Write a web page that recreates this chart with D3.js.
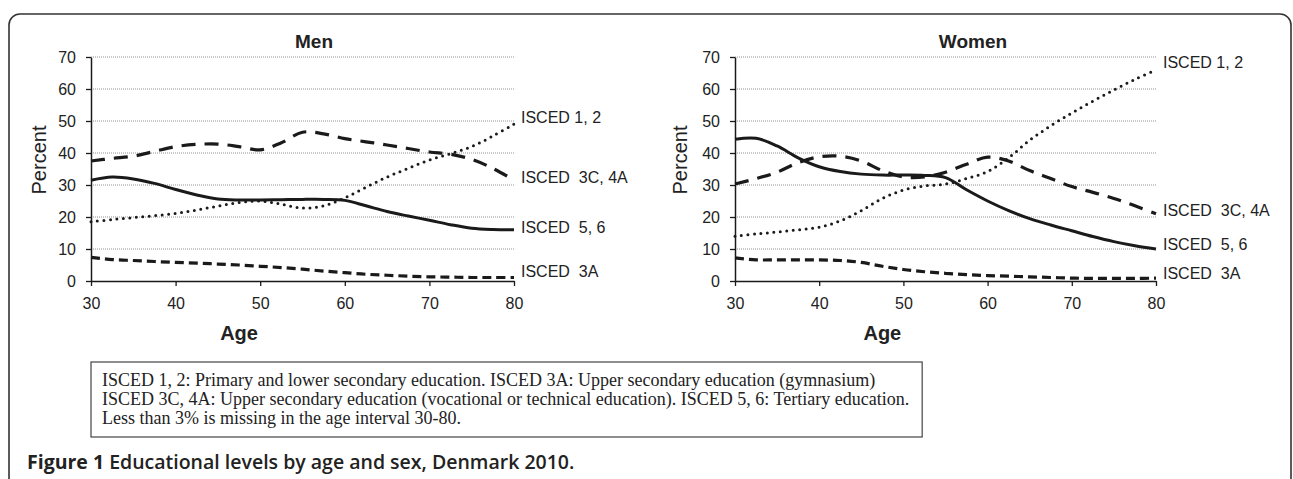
<!DOCTYPE html>
<html>
<head>
<meta charset="utf-8">
<script src="https://cdn.jsdelivr.net/npm/d3@7.9.0/dist/d3.min.js"></script>
<style>
  body { margin: 0; background: #fff; }
  svg { display: block; }
  svg text { font-family: "Liberation Sans", Arial, sans-serif; }
</style>
</head>
<body>
<svg id="chart" width="1293" height="479"></svg>
<script>
// --- data (percent by age) ---
const ages = [30, 32.5, 35, 37.5, 40, 42.5, 45, 47.5, 50, 52.5, 55, 57.5, 60, 62.5, 65, 67.5, 70, 72.5, 75, 77.5, 80];
const xTicks = [30, 40, 50, 60, 70, 80];
const yTicks = [0, 10, 20, 30, 40, 50, 60, 70];

const menIsced12  = [18.5, 19.2, 19.8, 20.4, 21.1, 22.2, 23.4, 24.5, 25, 24, 22.8, 23.5, 26, 29.3, 32.5, 35.2, 37.8, 39.8, 42, 45.3, 49];
const menIsced3C  = [37.5, 38.3, 39, 40.5, 42, 42.7, 42.8, 42, 41, 43.2, 46.5, 46, 44.5, 43.5, 42.5, 41.4, 40.3, 39.6, 38, 35.2, 31.5];
const menIsced56  = [31.5, 32.5, 31.9, 30.5, 28.6, 26.9, 25.6, 25.3, 25.3, 25.4, 25.5, 25.5, 25.2, 23.5, 21.7, 20.3, 19, 17.6, 16.5, 16.1, 16];
const menIsced3A  = [7.4, 6.7, 6.4, 6.1, 5.8, 5.6, 5.3, 5.0, 4.6, 4.2, 3.7, 3.1, 2.6, 2.1, 1.8, 1.5, 1.3, 1.2, 1.1, 1.1, 1.1];

const womenIsced12 = [14, 14.7, 15.3, 16, 16.8, 18.8, 22, 25.8, 28.4, 29.7, 30.3, 32, 34.2, 38.5, 44, 48.5, 52.5, 56.2, 59.7, 63, 66];
const womenIsced3C = [30.3, 32, 34, 37, 38.8, 39, 37.5, 34.5, 32.5, 32.5, 34, 36.5, 38.7, 37.5, 34.5, 32, 29.5, 27.7, 25.8, 23.5, 21];
const womenIsced56 = [44.3, 44.6, 42.2, 38.5, 35.7, 34.2, 33.4, 33.1, 33.1, 33, 32.3, 28.5, 25, 22, 19.5, 17.5, 15.7, 13.9, 12.3, 11, 10];
const womenIsced3A = [7.2, 6.6, 6.6, 6.6, 6.6, 6.4, 5.8, 4.6, 3.6, 2.9, 2.4, 2, 1.7, 1.5, 1.3, 1.1, 0.9, 0.8, 0.8, 0.8, 0.9];

const seriesNames = ['ISCED 1, 2', 'ISCED  3C, 4A', 'ISCED  5, 6', 'ISCED  3A'];

const noteLines = [
  'ISCED 1, 2: Primary and lower secondary education. ISCED 3A: Upper secondary education (gymnasium)',
  'ISCED 3C, 4A: Upper secondary education (vocational or technical education). ISCED 5, 6: Tertiary education.',
  'Less than 3% is missing in the age interval 30-80.'
];

// line styles per series (same order as seriesNames)
const lineStyles = [
  { width: 3, dash: '0,6.5', cap: 'round' },
  { width: 3.2, dash: '14,9', cap: 'butt' },
  { width: 3, dash: null, cap: 'butt' },
  { width: 3.2, dash: '9,5', cap: 'butt' }
];

const panels = [
  { title: 'Men', series: [menIsced12, menIsced3C, menIsced56, menIsced3A],
    x0: 91, x1: 514, titleX: 314, ylabelX: 39, labelDy: [-7, -3, -2, -6] },
  { title: 'Women', series: [womenIsced12, womenIsced3C, womenIsced56, womenIsced3A],
    x0: 735, x1: 1156, titleX: 973, ylabelX: 680, labelDy: [-7, -3, -5, -5] }
];

const svg = d3.select('#chart');
const ink = '#1a1a1a';
const sans = '"Liberation Sans", Arial, sans-serif';

// outer frame
svg.append('rect')
  .attr('x', 9).attr('y', 14)
  .attr('width', 1282).attr('height', 490)
  .attr('rx', 11)
  .attr('fill', 'none')
  .attr('stroke', '#333')
  .attr('stroke-width', 1.6);

const y = d3.scaleLinear().domain([0, 70]).range([281, 57]);

panels.forEach(p => {
  const x = d3.scaleLinear().domain([30, 80]).range([p.x0, p.x1]);
  const g = svg.append('g');

  // dotted gridlines
  g.selectAll('.grid')
    .data(yTicks.filter(d => d > 0))
    .enter().append('line')
    .attr('x1', p.x0).attr('x2', p.x1)
    .attr('y1', d => y(d)).attr('y2', d => y(d))
    .attr('stroke', '#777')
    .attr('stroke-width', 0.8)
    .attr('stroke-dasharray', '1,1');

  // y axis
  const yAxis = g.append('g')
    .attr('transform', `translate(${p.x0},0)`)
    .call(d3.axisLeft(y).tickValues(yTicks).tickSize(5).tickPadding(10).tickSizeOuter(0));
  // x axis
  const xAxis = g.append('g')
    .attr('transform', `translate(0,${y(0)})`)
    .call(d3.axisBottom(x).tickValues(xTicks).tickSize(5).tickPadding(12).tickSizeOuter(0));

  [yAxis, xAxis].forEach(a => {
    a.attr('font-family', null);
    a.select('.domain').attr('stroke', ink).attr('stroke-width', 1.5);
    a.selectAll('.tick line').attr('stroke', ink).attr('stroke-width', 1.3);
    a.selectAll('.tick text')
      .attr('fill', '#222')
      .style('font-size', '16px')
      .style('font-family', sans);
  });

  // series lines
  const line = d3.line()
    .x((d, i) => x(ages[i]))
    .y(d => y(d))
    .curve(d3.curveCatmullRom.alpha(0.5));

  p.series.forEach((vals, k) => {
    const st = lineStyles[k];
    g.append('path')
      .datum(vals)
      .attr('d', line)
      .attr('fill', 'none')
      .attr('stroke', ink)
      .attr('stroke-width', st.width)
      .attr('stroke-linecap', st.cap)
      .attr('stroke-dasharray', st.dash);

    g.append('text')
      .attr('x', p.x1 + 7)
      .attr('y', y(vals[vals.length - 1]) + p.labelDy[k])
      .attr('dy', '0.35em')
      .attr('fill', '#222')
      .style('font-size', '16px')
      .style('font-family', sans)
      .style('white-space', 'pre')
      .text(seriesNames[k]);
  });

  // titles
  g.append('text')
    .attr('x', p.titleX).attr('y', 48)
    .attr('text-anchor', 'middle')
    .attr('fill', '#222')
    .style('font-family', sans)
    .style('font-size', '19px').style('font-weight', 'bold')
    .text(p.title);

  g.append('text')
    .attr('transform', `translate(${p.ylabelX},${(y(0) + y(70)) / 2 - 9}) rotate(-90)`)
    .attr('text-anchor', 'middle')
    .attr('dy', '0.35em')
    .attr('fill', '#222')
    .style('font-family', sans)
    .style('font-size', '20px')
    .text('Percent');

  g.append('text')
    .attr('x', x(47.5)).attr('y', 340)
    .attr('text-anchor', 'middle')
    .attr('fill', '#222')
    .style('font-family', sans)
    .style('font-size', '20px').style('font-weight', 'bold')
    .text('Age');
});

// note box
const note = svg.append('g');
const noteText = note.selectAll('text')
  .data(noteLines)
  .enter().append('text')
  .attr('x', 102)
  .attr('y', (d, i) => 386 + i * 19)
  .attr('fill', '#222')
  .style('font-family', '"Liberation Serif", "Times New Roman", serif')
  .style('font-size', '18px')
  .text(d => d);

const maxLen = d3.max(noteText.nodes(), n => n.getComputedTextLength());
note.insert('rect', 'text')
  .attr('x', 91).attr('y', 362)
  .attr('width', maxLen + 24).attr('height', 75)
  .attr('fill', 'none')
  .attr('stroke', '#444')
  .attr('stroke-width', 1.2);

// caption
const cap = svg.append('text')
  .attr('x', 27).attr('y', 469)
  .attr('fill', '#222')
  .style('font-family', '"Open Sans", "Noto Sans", sans-serif')
  .style('font-size', '19.5px')
  .style('font-weight', 'bold');
cap.append('tspan').text('Figure 1 ');
cap.append('tspan').style('font-weight', '600').text('Educational levels by age and sex, Denmark 2010.');
</script>
</body>
</html>
